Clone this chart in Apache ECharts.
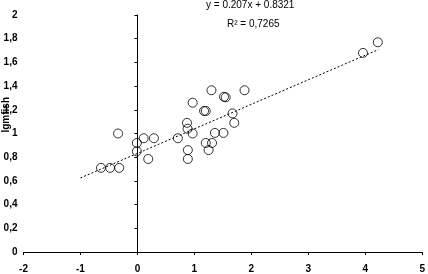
<!DOCTYPE html>
<html>
<head>
<meta charset="utf-8">
<script src="https://cdn.jsdelivr.net/npm/echarts@6/dist/echarts.min.js"></script>
<style>
  html, body { margin: 0; padding: 0; background: #fff; }
  #chart { width: 428px; height: 274px; }
</style>
</head>
<body>
<div id="chart"></div>
<script>
// points: [lgx, lgmfish]
var points = [
    [-0.64, 0.71], [-0.48, 0.71], [-0.32, 0.71], [-0.34, 1.00],
    [-0.01, 0.92], [-0.01, 0.85], [0.11, 0.96], [0.29, 0.96], [0.19, 0.785],
    [0.71, 0.96], [0.87, 1.09], [0.88, 1.04], [0.97, 1.00], [0.97, 1.26],
    [0.885, 0.86], [0.885, 0.785], [1.17, 1.19], [1.20, 1.19],
    [1.30, 1.365], [1.52, 1.31], [1.55, 1.305], [1.88, 1.365],
    [1.67, 1.17], [1.70, 1.09], [1.36, 1.005], [1.51, 1.005],
    [1.20, 0.92], [1.31, 0.92], [1.25, 0.86], [3.96, 1.68], [4.22, 1.77]
];
// trend line ends
var trendLine = [[-1, 0.625], [4.23, 1.708]];
var equationText = 'y = 0.207x + 0.8321';
var r2Text = 'R² = 0,7265';
var yName = 'lgmfish';

var myChart = echarts.init(document.getElementById('chart'));

var font = 'Liberation Sans, Arial, sans-serif';

var option = {
    animation: false,
    grid: {
        left: 23.5,
        right: 4,
        top: 15,
        bottom: 22
    },
    xAxis: {
        type: 'value',
        min: -2,
        max: 5,
        interval: 1,
        axisLine: { onZero: false, lineStyle: { color: '#000', width: 1 } },
        axisTick: { show: true, length: 3, lineStyle: { color: '#000' } },
        axisLabel: { color: '#000', fontFamily: font, fontSize: 10, fontWeight: 'bold', margin: 12 },
        splitLine: { show: false }
    },
    yAxis: {
        type: 'value',
        min: 0,
        max: 2,
        interval: 0.2,
        axisLine: { show: true, onZero: true, lineStyle: { color: '#000', width: 1 } },
        axisTick: { show: true, length: 3, lineStyle: { color: '#000' } },
        axisLabel: {
            color: '#000', fontFamily: font, fontSize: 10, fontWeight: 'bold', margin: 6,
            formatter: function (v) {
                return (Math.round(v * 10) / 10).toString().replace('.', ',');
            }
        },
        splitLine: { show: false }
    },
    graphic: [
        {
            type: 'text',
            left: 1,
            top: 97,
            rotation: Math.PI / 2,
            style: { text: yName, font: 'bold 10px ' + font, fill: '#000' },
            origin: [0, 0]
        },
        {
            type: 'text',
            left: 206,
            top: 0,
            style: { text: equationText, font: '10px ' + font, fill: '#000' }
        },
        {
            type: 'text',
            left: 227,
            top: 19,
            style: { text: r2Text, font: '10px ' + font, fill: '#000' }
        }
    ],
    series: [
        {
            type: 'line',
            data: trendLine,
            symbol: 'none',
            silent: true,
            lineStyle: { color: '#000', width: 1, type: [2, 2] }
        },
        {
            type: 'scatter',
            data: points,
            symbol: 'circle',
            symbolSize: 9,
            itemStyle: { color: 'rgba(0,0,0,0)', borderColor: '#000', borderWidth: 1 }
        }
    ]
};

myChart.setOption(option);
</script>
</body>
</html>
